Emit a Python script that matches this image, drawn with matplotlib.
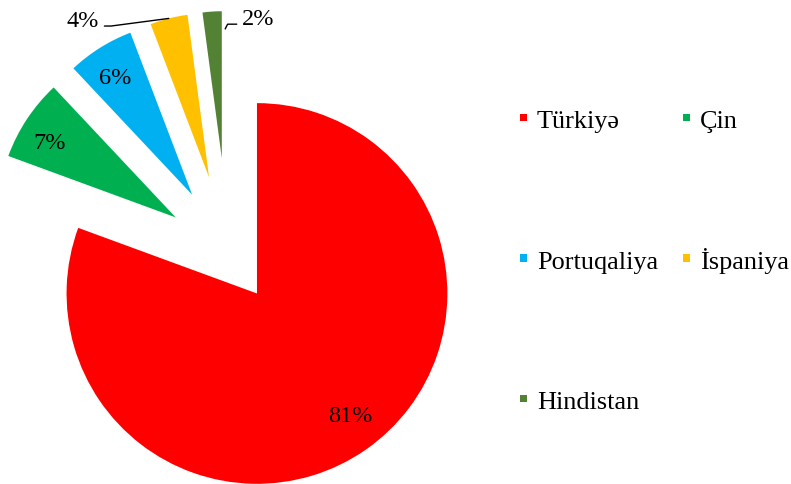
import numpy as np
import matplotlib
matplotlib.use('Agg')
import matplotlib.pyplot as plt

countries = ['Türkiyə', 'Çin', 'Portuqaliya', 'İspaniya', 'Hindistan']
shares = [80.6, 7.4, 6.2, 3.7, 2.1]
colors = ['#FF0000', '#00B050', '#00B0F0', '#FFC000', '#548235']
# each slice is pulled out and shrunk by the same amount (excel style)
explode = [0.21, 0.26, 0.28, 0.32, 0.39]
label_dist = [0.78, 0.83, 0.83]
label_nudge = [(5.8, 1.4), (-2.2, -2.9), (-0.7, -1.4)]  # points

plt.rcParams['font.family'] = ['Liberation Serif', 'DejaVu Serif']

fig = plt.figure(figsize=(7.91, 4.85), dpi=100)
ax = fig.add_axes([0, 0, 1, 1])
wedges, _ = ax.pie(shares, colors=colors, explode=explode, startangle=90,
                   counterclock=False, radius=1, wedgeprops=dict(linewidth=0))

total = sum(shares)
pct = [f'{v / total * 100:.0f}%' for v in shares]

for i, w in enumerate(wedges):
    w.set_radius(1 - explode[i])

def geom(w):
    cx, cy = w.center
    return cx, cy, w.r, np.deg2rad((w.theta1 + w.theta2) / 2)

# labels inside the big slices
for i in range(3):
    cx, cy, r, mid = geom(wedges[i])
    d = label_dist[i] * r
    ax.annotate(pct[i], xy=(cx + d * np.cos(mid), cy + d * np.sin(mid)),
                xytext=label_nudge[i], textcoords='offset points',
                ha='center', va='center_baseline', fontsize=17.5)

# 4% with leader to the outer arc
cx, cy, r, mid = geom(wedges[3])
ax.annotate(pct[3], xy=(cx + r * np.cos(mid), cy + r * np.sin(mid)),
            xytext=(-62, -1.7), textcoords='offset points',
            ha='center', va='center', fontsize=17.5,
            arrowprops=dict(arrowstyle='-', color='black', lw=1.0, shrinkB=0,
                            relpos=(1, 0.25),
                            connectionstyle='angle,angleA=0,angleB=7.5,rad=0'))

# 2% with leader to the right edge
cx, cy, r, mid = geom(wedges[4])
a = np.deg2rad(wedges[4].theta1 - 1.5)
ax.annotate(pct[4], xy=(cx + 0.88 * r * np.cos(a), cy + 0.88 * r * np.sin(a)),
            xytext=(24, 7.2), textcoords='offset points',
            ha='center', va='center', fontsize=17.5,
            arrowprops=dict(arrowstyle='-', color='black', lw=1.0, shrinkB=0,
                            relpos=(0, 0.25),
                            connectionstyle='angle,angleA=0,angleB=63,rad=0'))

ax.set_xlim(-0.946, 2.336)
ax.set_ylim(-0.963, 1.050)
ax.set_aspect('auto')
ax.axis('off')

order = [0, 2, 4, 1, 3]
leg = fig.legend([wedges[i] for i in order], [countries[i] for i in order],
                 ncols=2, loc='upper left', bbox_to_anchor=(0.657, 0.771),
                 frameon=False, fontsize=18.9, handlelength=0.28, handleheight=0.054,
                 handletextpad=0.37, columnspacing=0.95, labelspacing=4.52,
                 borderpad=0, borderaxespad=0)

# the dotted İ makes its row taller, pull it back in line with Portuqaliya
fig.canvas.draw()
r = fig.canvas.get_renderer()
shift = leg.texts[1].get_window_extent(r).y0 - leg.texts[4].get_window_extent(r).y0
leg.texts[4].set_y(shift)
h = leg.legend_handles[4]
h.set_y(h.get_y() + shift * 72 / fig.dpi)

fig.savefig('out.png', dpi=100)
